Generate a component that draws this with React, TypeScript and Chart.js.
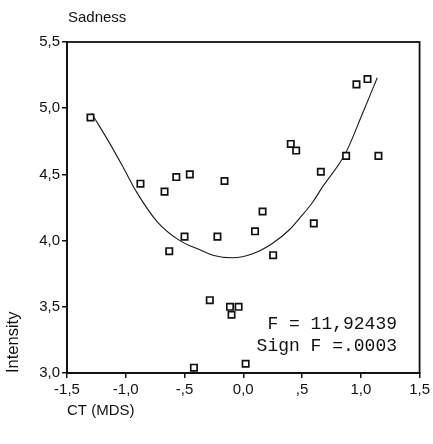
import React, { useEffect, useRef } from 'react';
import { Chart, registerables } from 'chart.js';

Chart.register(...registerables);

// ---- data ----
const pointX = [-1.30, -0.875, -0.67, -0.57, -0.455, -0.50, -0.63, -0.22, -0.16, 0.10, 0.164, 0.254, 0.404, 0.45, 0.60, 0.66, 0.875, 0.963, 1.057, 1.15, -0.285, -0.113, -0.04, -0.10, -0.42, 0.02];
const pointY = [4.93, 4.43, 4.37, 4.48, 4.50, 4.03, 3.92, 4.03, 4.45, 4.07, 4.22, 3.89, 4.73, 4.68, 4.13, 4.52, 4.64, 5.18, 5.22, 4.64, 3.55, 3.50, 3.50, 3.44, 3.04, 3.07];

const curveX = [-1.29, -1.14, -1.02, -0.91, -0.73, -0.54, -0.37, -0.26, -0.09, 0.08, 0.25, 0.39, 0.48, 0.59, 0.67, 0.87, 1.01, 1.14];
const curveY = [4.96, 4.74, 4.55, 4.37, 4.14, 4.00, 3.93, 3.89, 3.87, 3.90, 3.98, 4.08, 4.17, 4.29, 4.40, 4.66, 4.95, 5.23];

const xTickValues = [-1.5, -1.0, -0.5, 0.0, 0.5, 1.0, 1.5];
const xTickLabels = ['-1,5', '-1,0', '-,5', '0,0', ',5', '1,0', '1,5'];
const yTickValues = [3.0, 3.5, 4.0, 4.5, 5.0, 5.5];
const yTickLabels = ['3,0', '3,5', '4,0', '4,5', '5,0', '5,5'];

const chartTitle = 'Sadness';
const xTitle = 'CT (MDS)';
const yTitle = 'Intensity';
const statLines = ['F = 11,92439', 'Sign F =.0003'];

const W = 433;
const H = 444;
const SANS = '"Liberation Sans", Arial, sans-serif';
const MONO = '"Liberation Mono", "Courier New", monospace';

const decorPlugin = {
  id: 'decor',
  afterDraw(chart: any) {
    const { ctx, chartArea } = chart;
    ctx.save();
    // frame
    ctx.strokeStyle = '#111';
    ctx.lineWidth = 1.8;
    ctx.strokeRect(chartArea.left, chartArea.top, chartArea.right - chartArea.left, chartArea.bottom - chartArea.top);
    // title
    ctx.fillStyle = '#111';
    ctx.font = `15px ${SANS}`;
    ctx.textAlign = 'left';
    ctx.textBaseline = 'alphabetic';
    ctx.fillText(chartTitle, 68, 22);
    // statistics
    ctx.font = `18px ${MONO}`;
    ctx.textAlign = 'right';
    ctx.fillText(statLines[0], 397, 329);
    ctx.fillText(statLines[1], 397, 351);
    ctx.restore();
  },
};

export default function App() {
  const ref = useRef<HTMLCanvasElement>(null);

  useEffect(() => {
    const font = { family: SANS, size: 15 };
    const chart = new Chart(ref.current as HTMLCanvasElement, {
      type: 'scatter',
      data: {
        datasets: [
          {
            label: 'Fit',
            data: curveX.map((x, i) => ({ x, y: curveY[i] })),
            showLine: true,
            cubicInterpolationMode: 'monotone',
            borderColor: '#1a1a1a',
            borderWidth: 1.1,
            pointRadius: 0,
            fill: false,
            order: 2,
          } as any,
          {
            label: 'Observed',
            data: pointX.map((x, i) => ({ x, y: pointY[i] })),
            showLine: false,
            pointStyle: 'rect',
            pointRadius: 4.5,
            pointBorderWidth: 1.7,
            pointBackgroundColor: '#fff',
            pointBorderColor: '#111',
            order: 1,
          } as any,
        ],
      },
      options: {
        responsive: false,
        animation: false,
        devicePixelRatio: 1,
        layout: { padding: { top: 42, right: 12, left: 0, bottom: 0 } },
        plugins: {
          legend: { display: false },
          tooltip: { enabled: false },
          title: { display: false },
        },
        scales: {
          x: {
            type: 'linear',
            min: -1.5,
            max: 1.5,
            afterBuildTicks: (s: any) => {
              s.ticks = xTickValues.map((v) => ({ value: v }));
            },
            afterFit: (s: any) => {
              s.height = 71;
            },
            ticks: {
              callback: (_v: any, i: number) => xTickLabels[i],
              font,
              color: '#111',
              padding: 3,
              maxRotation: 0,
              autoSkip: false,
            },
            grid: { drawOnChartArea: false, drawTicks: true, tickLength: 5, color: '#111', lineWidth: 1.5 },
            border: { display: true, color: '#111', width: 1.8 },
            title: { display: true, text: xTitle, align: 'start', font, color: '#111', padding: { top: 0, bottom: 24 } },
          },
          y: {
            type: 'linear',
            min: 3.0,
            max: 5.5,
            afterBuildTicks: (s: any) => {
              s.ticks = yTickValues.map((v) => ({ value: v }));
            },
            afterFit: (s: any) => {
              s.width = 67;
            },
            ticks: {
              callback: (_v: any, i: number) => yTickLabels[i],
              font,
              color: '#111',
              padding: 2,
              autoSkip: false,
            },
            grid: { drawOnChartArea: false, drawTicks: true, tickLength: 5, color: '#111', lineWidth: 1.5 },
            border: { display: true, color: '#111', width: 1.8 },
            title: { display: true, text: yTitle, align: 'start', font: { family: SANS, size: 16.5 }, color: '#111', padding: { top: 4, bottom: 0 } },
          },
        },
      } as any,
      plugins: [decorPlugin],
    });
    return () => chart.destroy();
  }, []);

  return (
    <div style={{ position: 'fixed', left: 0, top: 0, width: W, height: H, background: '#fff' }}>
      <canvas ref={ref} width={W} height={H} style={{ display: 'block' }} />
    </div>
  );
}
